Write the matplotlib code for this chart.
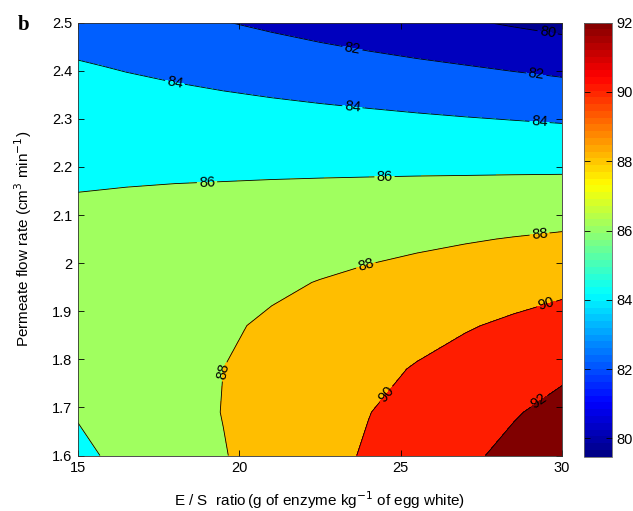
import numpy as np
import matplotlib
matplotlib.use("Agg")
import matplotlib.pyplot as plt
from matplotlib.colors import ListedColormap, Normalize
from matplotlib.cm import ScalarMappable

# E/S ratio (g enzyme / kg egg white) and permeate flow rate (cm3/min) grid
es_ratio = np.linspace(15, 30, 11)
flow_rate = np.linspace(1.6, 2.5, 11)

# Response values on the grid (rows: flow rate from 1.6 up to 2.5)
response = np.array([
    [85.66, 86.41, 87.17, 87.92, 88.68, 89.43, 90.18, 90.93, 91.69, 92.43, 93.18],
    [86.11, 86.75, 87.39, 88.04, 88.68, 89.32, 89.96, 90.60, 91.24, 91.87, 92.51],
    [86.40, 86.94, 87.47, 88.00, 88.52, 89.05, 89.58, 90.11, 90.63, 91.15, 91.68],
    [86.55, 86.96, 87.38, 87.80, 88.21, 88.63, 89.04, 89.46, 89.87, 90.28, 90.69],
    [86.53, 86.84, 87.14, 87.45, 87.75, 88.05, 88.35, 88.65, 88.95, 89.25, 89.55],
    [86.36, 86.55, 86.75, 86.94, 87.13, 87.32, 87.51, 87.69, 87.88, 88.07, 88.25],
    [86.04, 86.12, 86.20, 86.27, 86.35, 86.43, 86.50, 86.58, 86.65, 86.73, 86.80],
    [85.55, 85.52, 85.49, 85.45, 85.42, 85.38, 85.35, 85.31, 85.27, 85.23, 85.19],
    [84.92, 84.77, 84.63, 84.48, 84.33, 84.18, 84.03, 83.88, 83.73, 83.58, 83.42],
    [84.13, 83.87, 83.61, 83.35, 83.09, 82.83, 82.56, 82.30, 82.04, 81.77, 81.50],
    [83.18, 82.81, 82.43, 82.06, 81.69, 81.31, 80.94, 80.56, 80.19, 79.81, 79.43],
])

contour_levels = [80, 82, 84, 86, 88, 90, 92]
colorbar_ticks = [80, 82, 84, 86, 88, 90, 92]
ytick_values = [1.6, 1.7, 1.8, 1.9, 2.0, 2.1, 2.2, 2.3, 2.4, 2.5]
xtick_values = [15, 20, 25, 30]

# where each contour label sits along its line
label_pos = [(29.55, 2.478), (23.5, 2.446), (29.2, 2.39),
             (18.0, 2.373), (23.5, 2.323), (29.3, 2.29),
             (19.0, 2.166), (24.5, 2.178),
             (29.3, 2.065), (23.9, 2.0), (19.45, 1.775),
             (29.5, 1.918), (24.5, 1.73), (29.3, 1.712)]


def classic_jet(t):
    """Piecewise-linear 'jet' colour ramp (dark blue -> cyan -> yellow -> dark red)."""
    t = np.asarray(t, dtype=float)
    r = np.clip(1.5 - np.abs(4 * t - 3), 0, 1)
    g = np.clip(1.5 - np.abs(4 * t - 2), 0, 1)
    b = np.clip(1.5 - np.abs(4 * t - 1), 0, 1)
    return np.stack([r, g, b], axis=-1)


X, Y = np.meshgrid(es_ratio, flow_rate)
Z = response

plt.rcParams['font.family'] = ['Liberation Sans', 'DejaVu Sans']
W, H = 633, 511
fig = plt.figure(figsize=(W / 100, H / 100), dpi=100)
ax = fig.add_axes([78 / W, 1 - 455.5 / H, 484 / W, 432.8 / H])
cax = fig.add_axes([584 / W, 1 - 456.7 / H, 28 / W, 434 / H])

jet64 = ListedColormap(classic_jet((np.arange(64) + 0.5) / 64))

# filled bands: each band takes the colour of its lower bound
fill_norm = Normalize(79.22, 91.96)
levels = [min(Z.min(), 79.0)] + contour_levels + [max(Z.max(), 93.0)]
fill_vals = [Z.min()] + contour_levels
colors = [tuple(classic_jet(np.clip(fill_norm(v), 0, 1))) for v in fill_vals]
ax.contourf(X, Y, Z, levels=levels, colors=colors)
cs = ax.contour(X, Y, Z, levels=contour_levels, colors='k', linewidths=0.6)
ax.clabel(cs, manual=label_pos, inline=True, fmt='%d', fontsize=10.5, inline_spacing=2)

ax.set_xlim(15, 30)
ax.set_ylim(1.6, 2.5)
ax.set_xticks(xtick_values)
ax.set_yticks(ytick_values)
ax.set_yticklabels([f"{v:g}" for v in ytick_values])
ax.tick_params(direction='in', top=True, right=True, length=4, labelsize=10.5, width=0.6, pad=4)
for s in ax.spines.values():
    s.set_linewidth(0.6)
    s.set_color('#333333')
ax.set_xlabel(r"E / S  ratio$\,$(g of enzyme kg$^{-1}$ of egg white)", fontsize=11, labelpad=10)
ax.set_ylabel(r"Permeate flow rate (cm$^3$ min$^{-1}$)", fontsize=11, labelpad=13)

sm = ScalarMappable(norm=Normalize(79.47, 92.0), cmap=jet64)
cb = fig.colorbar(sm, cax=cax, ticks=colorbar_ticks)
cb.ax.tick_params(direction='in', left=True, right=True, length=4, labelsize=10.5, width=0.6)
cb.outline.set_linewidth(0.6)
cb.outline.set_edgecolor('#666666')

fig.text(18 / W, 1 - 25 / H, "b", fontsize=15, fontweight='bold', family='Liberation Serif', va='center')
fig.savefig("out.png", dpi=100)
